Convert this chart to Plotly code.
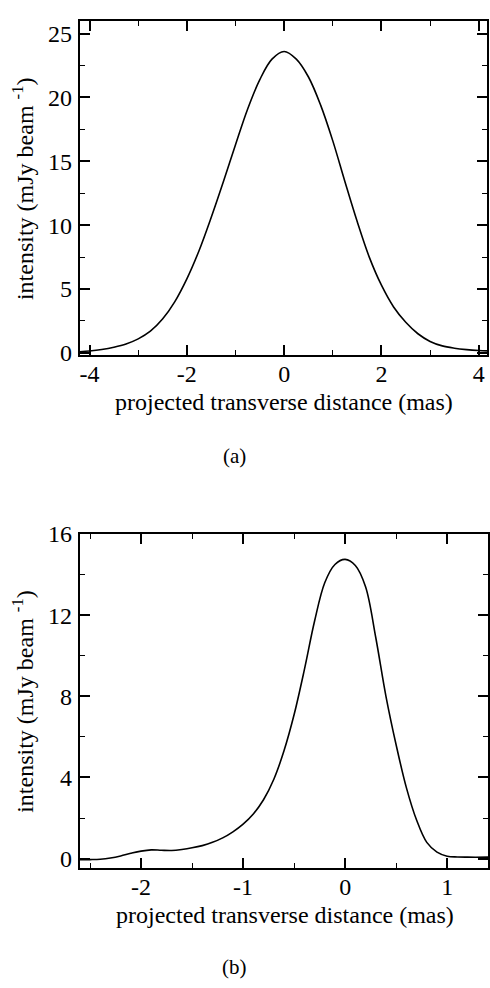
import plotly.graph_objects as go

# ---------------- data ----------------
# panel (a)
xa = [-4.2, -4.0, -3.75, -3.5, -3.25, -3.0, -2.75, -2.5, -2.25, -2.0, -1.75, -1.5, -1.25, -1.0, -0.75, -0.5, -0.25,
      0.0, 0.25, 0.5, 0.75, 1.0, 1.25, 1.5, 1.75, 2.0, 2.25, 2.5, 2.75, 3.0, 3.25, 3.5, 3.75, 4.0, 4.17]
ya = [0.09, 0.15, 0.27, 0.45, 0.7, 1.1, 1.7, 2.65, 4.0, 5.8, 8.0, 10.6, 13.4, 16.3, 19.1, 21.4, 23.0,
      23.6, 23.0, 21.6, 19.4, 16.6, 13.4, 10.3, 7.5, 5.3, 3.6, 2.4, 1.5, 0.9, 0.55, 0.37, 0.26, 0.19, 0.16]

# panel (b)
xb = [-2.6, -2.5, -2.4, -2.3, -2.2, -2.1, -2.0, -1.9, -1.8, -1.7, -1.6, -1.5, -1.4, -1.3, -1.2, -1.1, -1.0,
      -0.9, -0.8, -0.7, -0.6, -0.5, -0.4, -0.3, -0.2, -0.1, 0.0, 0.1, 0.2, 0.3, 0.4, 0.5, 0.6, 0.7, 0.8,
      0.9, 1.0, 1.1, 1.2, 1.4]
yb = [-0.06, -0.05, -0.03, 0.03, 0.13, 0.26, 0.37, 0.43, 0.41, 0.40, 0.45, 0.53, 0.64, 0.8, 1.02, 1.32, 1.7,
      2.2, 2.9, 3.9, 5.3, 7.1, 9.3, 11.7, 13.6, 14.5, 14.75, 14.45, 13.4, 10.9, 8.0, 5.6, 3.5, 1.9, 0.8,
      0.32, 0.12, 0.08, 0.07, 0.07]

xa_tickvals = [-4, -2, 0, 2, 4]
xa_ticktext = ["-4", "-2", "0", "2", "4"]
ya_tickvals = [0, 5, 10, 15, 20, 25]
ya_ticktext = ["0", "5", "10", "15", "20", "25"]
xb_tickvals = [-2, -1, 0, 1]
xb_ticktext = ["-2", "-1", "0", "1"]
yb_tickvals = [0, 4, 8, 12, 16]
yb_ticktext = ["0", "4", "8", "12", "16"]

xtitle = "projected transverse distance (mas)"
ytitle = "intensity (mJy beam <sup>-1</sup>)"
captions = ["(a)", "(b)"]

# ---------------- layout helpers ----------------
W, H = 490, 988
FONT = "Times New Roman, Liberation Serif, DejaVu Serif, serif"
FS = 24


def px_x(p):
    return p / W


def px_y(p):
    return 1 - p / H


fig = go.Figure()
fig.add_trace(go.Scatter(x=xa, y=ya, mode="lines", line=dict(color="black", width=1.6, shape="spline", smoothing=1.0),
                         xaxis="x", yaxis="y", showlegend=False, hoverinfo="skip"))
fig.add_trace(go.Scatter(x=xb, y=yb, mode="lines", line=dict(color="black", width=1.6, shape="spline", smoothing=1.0),
                         xaxis="x2", yaxis="y2", showlegend=False, hoverinfo="skip"))


def axis(domain, rng, tickvals, ticktext, minor_dtick, anchor, standoff):
    return dict(
        domain=domain, range=rng, anchor=anchor,
        tickmode="array", tickvals=tickvals, ticktext=ticktext,
        ticks="inside", ticklen=10, tickwidth=1.6, tickcolor="black",
        minor=dict(tickmode="linear", tick0=0, dtick=minor_dtick, ticks="inside", ticklen=5,
                   tickwidth=1.4, tickcolor="black", showgrid=False),
        showline=True, linecolor="black", linewidth=2, mirror="ticks",
        showgrid=False, zeroline=False,
        tickfont=dict(family=FONT, size=FS, color="black"),
        ticklabelstandoff=standoff,
    )


# panel geometry (pixels)
A = dict(l=80, r=488, t=8, b=351)
B = dict(l=80, r=489, t=534, b=876)

fig.update_layout(
    width=W, height=H,
    margin=dict(l=0, r=0, t=0, b=0),
    paper_bgcolor="white", plot_bgcolor="white",
    font=dict(family=FONT, size=FS, color="black"),
    xaxis=axis([px_x(A["l"]), px_x(A["r"])], [-4.2, 4.17], xa_tickvals, xa_ticktext, 1, "y", -4),
    yaxis=axis([px_y(A["b"]), px_y(A["t"])], [-0.2, 26.0], ya_tickvals, ya_ticktext, 2.5, "x", 1),
    xaxis2=axis([px_x(B["l"]), px_x(B["r"])], [-2.6, 1.4], xb_tickvals, xb_ticktext, 0.5, "y2", -4),
    yaxis2=axis([px_y(B["b"]), px_y(B["t"])], [-0.45, 16.0], yb_tickvals, yb_ticktext, 2, "x2", 1),
)

annotations = []
for P, cap, cap_y in [(A, captions[0], 454), (B, captions[1], 978)]:
    xc = (P["l"] + P["r"]) / 2
    yc = (P["t"] + P["b"]) / 2
    annotations.append(dict(x=px_x(xc + 1), y=px_y(P["b"] + 48), xref="paper", yref="paper", text=xtitle,
                            showarrow=False, xanchor="center", yanchor="middle",
                            font=dict(family=FONT, size=FS, color="black")))
    annotations.append(dict(x=px_x(23), y=px_y(yc), xref="paper", yref="paper", text=ytitle, textangle=-90,
                            showarrow=False, xanchor="center", yanchor="middle",
                            font=dict(family=FONT, size=FS, color="black")))
    annotations.append(dict(x=px_x(235), y=px_y(cap_y), xref="paper", yref="paper", text=cap,
                            showarrow=False, xanchor="center", yanchor="middle",
                            font=dict(family=FONT, size=21, color="black")))
fig.update_layout(annotations=annotations)

fig.write_html("out.html")
